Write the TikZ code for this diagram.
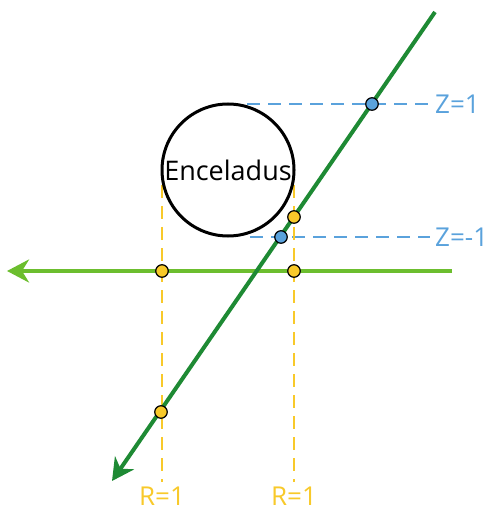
\documentclass[tikz,border=0pt]{standalone}
\usepackage{fontspec}
\setmainfont{Open Sans}
\usetikzlibrary{arrows.meta}
\definecolor{dkgreen}{HTML}{1E8A34}
\definecolor{ltgreen}{HTML}{6CBE2E}
\definecolor{zblue}{HTML}{5AA2DC}
\definecolor{ryellow}{HTML}{F8C92A}
\tikzset{
  zdash/.style={zblue, line width=2.8pt, dash pattern=on 13pt off 8pt},
  rdash/.style={ryellow, line width=2.8pt, dash pattern=on 13pt off 8pt},
  ydot/.style={circle, draw=black, line width=1.2pt, fill=ryellow, inner sep=0pt, minimum size=12.5pt},
  bdot/.style={circle, draw=black, line width=1.2pt, fill=zblue, inner sep=0pt, minimum size=12.5pt},
  zlab/.style={text=zblue, font=\fontsize{26}{30}\selectfont, anchor=west, inner sep=0pt},
  rlab/.style={text=ryellow, font=\fontsize{26}{30}\selectfont, inner sep=0pt, anchor=base},
  tip/.style={-{Stealth[length=22pt, width=23pt, inset=7pt]}}
}
\begin{document}
\begin{tikzpicture}[x=1pt, y=-1pt]
\useasboundingbox (0,0) rectangle (488,510);
% coordinates
\coordinate (zt1) at (247,104);
\coordinate (zt2) at (428,104);
\coordinate (zb1) at (250,237);
\coordinate (zb2) at (430,237);
\coordinate (r1t) at (162,185);
\coordinate (r1b) at (162,482);
\coordinate (r2t) at (294,185);
\coordinate (r2b) at (294,482);
\coordinate (hs) at (452,271);
\coordinate (he) at (7,271);
\coordinate (ds) at (435,12);
\coordinate (de) at (112,481);
% dashed guides
\draw[zdash] (zt1) -- (zt2);
\draw[zdash] (zb1) -- (zb2);
\draw[rdash] (r1t) -- (r1b);
\draw[rdash] (r2t) -- (r2b);
% Enceladus
\node[circle, draw=black, fill=white, line width=3pt, minimum size=132pt, inner sep=0pt,
      font=\fontsize{27}{31}\selectfont] (enc) at (228,170) {Enceladus};
% labels
\node[zlab] (lz1) at (435,104) {Z=1};
\node[zlab] (lz2) at (435,237) {Z=-1};
\node[rlab] (lr1) at (162,505) {R=1};
\node[rlab] (lr2) at (294,505) {R=1};
% trajectories
\draw[ltgreen, line width=4pt, tip] (hs) -- (he);
\draw[dkgreen, line width=4pt, tip] (ds) -- (de);
% intersection dots
\node[bdot] (b1) at (372,104) {};
\node[bdot] (b2) at (281,237) {};
\node[ydot] (y1) at (294,217) {};
\node[ydot] (y2) at (162,271) {};
\node[ydot] (y3) at (294,271) {};
\node[ydot] (y4) at (161,412) {};
\end{tikzpicture}
\end{document}
